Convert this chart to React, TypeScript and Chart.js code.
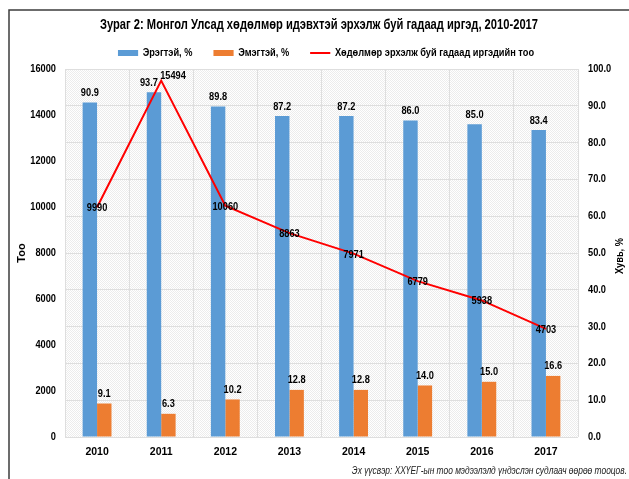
import React, { useEffect, useRef } from "react";
import { Chart, registerables } from "chart.js";

Chart.register(...registerables);

const years = ["2010", "2011", "2012", "2013", "2014", "2015", "2016", "2017"];
const maleShare = [90.9, 93.7, 89.8, 87.2, 87.2, 86.0, 85.0, 83.4];
const femaleShare = [9.1, 6.3, 10.2, 12.8, 12.8, 14.0, 15.0, 16.6];
const foreignWorkers = [9990, 15494, 10060, 8863, 7971, 6779, 5938, 4703];

const titleText = "Зураг 2: Монгол Улсад хөдөлмөр идэвхтэй эрхэлж буй гадаад иргэд, 2010-2017";
const maleLabel = "Эрэгтэй, %";
const femaleLabel = "Эмэгтэй, %";
const workersLabel = "Хөдөлмөр эрхэлж буй гадаад иргэдийн тоо";
const leftAxisTitle = "Тоо";
const rightAxisTitle = "Хувь, %";
const sourceNote = "Эх үүсвэр: ХХҮЕГ-ын тоо мэдээлэлд үндэслэн судлаач өөрөө тооцов.";

const FONT = '"Liberation Sans", Arial, sans-serif';
const NARROW = 0.84;

const BLUE = "#5B9BD5";
const ORANGE = "#ED7D31";
const RED = "#FF0000";
const GRID = "#dedede";

function makePattern(ctx: CanvasRenderingContext2D) {
  const c = document.createElement("canvas");
  c.width = 2;
  c.height = 2;
  const p = c.getContext("2d")!;
  p.fillStyle = "#ffffff";
  p.fillRect(0, 0, 2, 2);
  p.fillStyle = "#ececec";
  p.fillRect(0, 0, 1, 1);
  p.fillRect(1, 1, 1, 1);
  return ctx.createPattern(c, "repeat");
}

function narrowText(ctx: CanvasRenderingContext2D, text: string, x: number, y: number, align: CanvasTextAlign) {
  ctx.save();
  ctx.translate(x, y);
  ctx.scale(NARROW, 1);
  ctx.textAlign = align;
  ctx.fillText(text, 0, 0);
  ctx.restore();
}

function wrapNarrow(ctx: CanvasRenderingContext2D, fn: () => void, ax: number) {
  ctx.save();
  ctx.translate(ax, 0);
  ctx.scale(NARROW, 1);
  ctx.translate(-ax, 0);
  fn();
  ctx.restore();
}

const framePlugin = {
  id: "frameBg",
  beforeDraw(chart: any) {
    const { ctx, chartArea } = chart;
    ctx.save();
    ctx.fillStyle = "#ffffff";
    ctx.fillRect(0, 0, chart.width, chart.height);
    const pat = makePattern(ctx);
    ctx.fillStyle = pat || "#f5f5f5";
    ctx.fillRect(chartArea.left, chartArea.top, chartArea.right - chartArea.left, chartArea.bottom - chartArea.top);
    ctx.strokeStyle = "#3c3c3c";
    ctx.lineWidth = 1.5;
    ctx.beginPath();
    ctx.moveTo(9, chart.height);
    ctx.lineTo(9, 10);
    ctx.lineTo(chart.width, 10);
    ctx.stroke();
    ctx.restore();
  },
};

const placePlugin = {
  id: "placeBlocks",
  afterLayout(chart: any) {
    const ctx = chart.ctx;
    const t = chart.titleBlock;
    if (t) {
      t.left = 100;
      t.right = 538;
      t.top = 16;
    }
    const l = chart.legend;
    if (l) {
      l.left = 26;
      l.right = 626;
      l.top = 53 - l.options.labels.padding - 5.5;
      if (!l.__narrow) {
        l.__narrow = true;
        const orig = l.draw.bind(l);
        l.draw = (...args: any[]) => wrapNarrow(ctx, () => orig(...args), (l.left + l.right) / 2);
      }
    }
    ["y", "y1"].forEach((id) => {
      const s = chart.scales[id];
      if (s && !s.__narrow) {
        s.__narrow = true;
        const orig = s.drawLabels.bind(s);
        s.drawLabels = (...args: any[]) => {
          const pad = s.options.ticks.padding;
          const ax = s.position === "left" ? s.right - pad : s.left + pad;
          wrapNarrow(ctx, () => orig(...args), ax);
        };
      }
    });
  },
};

const labelsPlugin = {
  id: "dataLabels",
  afterDatasetsDraw(chart: any) {
    const { ctx } = chart;
    ctx.save();
    ctx.fillStyle = "#000";
    ctx.font = `bold 11px ${FONT}`;
    ctx.textBaseline = "middle";
    chart.data.datasets.forEach((ds: any, di: number) => {
      const meta = chart.getDatasetMeta(di);
      meta.data.forEach((el: any, i: number) => {
        const v = ds.data[i];
        if (ds.type === "line") {
          if (i === 1) {
            narrowText(ctx, String(v), el.x - 1, el.y - 5, "left");
          } else {
            narrowText(ctx, String(v), el.x, el.y + 1, "center");
          }
        } else {
          const dx = di === 0 && i === 1 ? -5 : 0;
          narrowText(ctx, v.toFixed(1), el.x + dx, el.y - 9.5, "center");
        }
      });
    });
    ctx.restore();
  },
  afterDraw(chart: any) {
    const { ctx, chartArea } = chart;
    ctx.save();
    ctx.fillStyle = "#000";
    ctx.font = `bold 11px ${FONT}`;
    ctx.textBaseline = "middle";
    ctx.translate(620, (chartArea.top + chartArea.bottom) / 2 + 3);
    ctx.rotate(-Math.PI / 2);
    ctx.scale(NARROW, 1);
    ctx.textAlign = "center";
    ctx.fillText(rightAxisTitle, 0, 0);
    ctx.restore();
    ctx.save();
    ctx.fillStyle = "#222";
    ctx.font = `italic 10px ${FONT}`;
    ctx.textBaseline = "middle";
    narrowText(ctx, sourceNote, 627, 471, "right");
    ctx.restore();
  },
};

export default function App() {
  const ref = useRef<HTMLCanvasElement | null>(null);
  useEffect(() => {
    if (!ref.current) return;
    const chart = new Chart(ref.current, {
      type: "bar",
      data: {
        labels: years,
        datasets: [
          {
            type: "bar",
            label: maleLabel,
            data: maleShare,
            backgroundColor: BLUE,
            borderWidth: 0,
            yAxisID: "y1",
            pointStyle: "rect",
            categoryPercentage: 0.45,
            barPercentage: 1.0,
          } as any,
          {
            type: "bar",
            label: femaleLabel,
            data: femaleShare,
            backgroundColor: ORANGE,
            borderWidth: 0,
            yAxisID: "y1",
            pointStyle: "rect",
            categoryPercentage: 0.45,
            barPercentage: 1.0,
          } as any,
          {
            type: "line",
            label: workersLabel,
            data: foreignWorkers,
            borderColor: RED,
            backgroundColor: RED,
            borderWidth: 2,
            pointRadius: 0,
            pointStyle: "line",
            tension: 0,
            yAxisID: "y",
            order: -1,
          } as any,
        ],
      },
      options: {
        animation: false,
        responsive: false,
        maintainAspectRatio: false,
        layout: { padding: { top: 5, left: 10, right: 0, bottom: 20 } },
        plugins: {
          tooltip: { enabled: false },
          title: {
            display: true,
            text: titleText,
            color: "#000",
            font: { family: FONT, size: 15, weight: "bold" },
            padding: { top: 0, bottom: 0 },
          },
          legend: {
            display: true,
            position: "top",
            labels: {
              usePointStyle: true,
              pointStyleWidth: 24,
              boxHeight: 6,
              padding: 25,
              color: "#000",
              font: { family: FONT, size: 11, weight: "bold" },
              sort: (a: any, b: any) => a.datasetIndex - b.datasetIndex,
            },
          },
        },
        scales: {
          x: {
            grid: { color: GRID, drawTicks: false, offset: true },
            border: { display: false },
            ticks: { color: "#000", font: { family: FONT, size: 10.5, weight: "bold" }, padding: 9 },
            afterFit: (s: any) => {
              s.height = 22;
            },
          },
          y: {
            position: "left",
            min: 0,
            max: 16000,
            ticks: {
              stepSize: 2000,
              color: "#000",
              font: { family: FONT, size: 11, weight: "bold" },
              padding: 9,
              callback: (v: any) => String(v),
            },
            grid: { display: false, drawTicks: false },
            border: { display: false },
            title: {
              display: true,
              text: leftAxisTitle,
              color: "#000",
              font: { family: FONT, size: 11, weight: "bold" },
              padding: { top: 5, bottom: 0 },
            },
            afterFit: (s: any) => {
              s.width = 55;
            },
          },
          y1: {
            position: "right",
            min: 0,
            max: 100,
            ticks: {
              stepSize: 10,
              color: "#000",
              font: { family: FONT, size: 11, weight: "bold" },
              padding: 10,
              callback: (v: any) => Number(v).toFixed(1),
            },
            grid: { color: GRID, drawTicks: false },
            border: { display: false },
            afterFit: (s: any) => {
              s.width = 51;
            },
          },
        },
      },
      plugins: [framePlugin, placePlugin, labelsPlugin],
    } as any);
    return () => chart.destroy();
  }, []);
  return (
    <div style={{ position: "fixed", left: 0, top: 0, width: 629, height: 479, background: "#fff" }}>
      <canvas ref={ref} width={629} height={479} style={{ display: "block", width: 629, height: 479 }} />
    </div>
  );
}
